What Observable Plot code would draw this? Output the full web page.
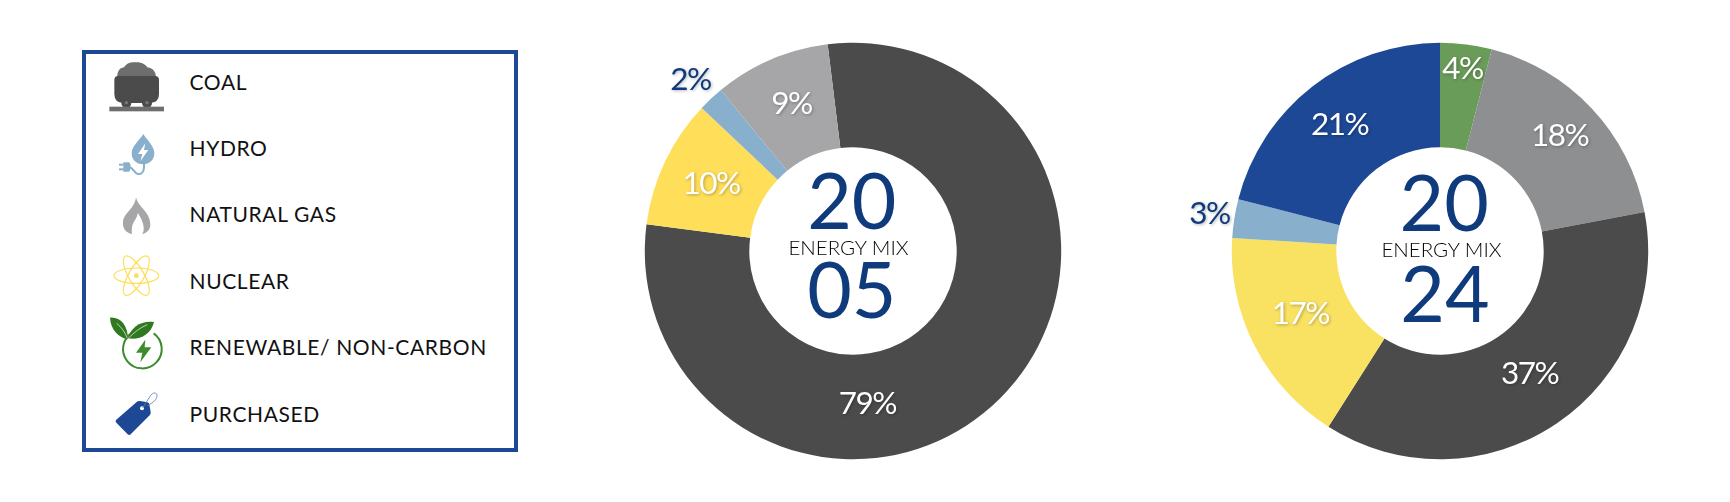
<!DOCTYPE html>
<html>
<head>
<meta charset="utf-8">
<script src="https://cdn.jsdelivr.net/npm/d3@7"></script>
<script src="https://cdn.jsdelivr.net/npm/@observablehq/plot@0.6"></script>
<style>
html,body{margin:0;padding:0;background:#fff;width:1730px;height:502px;overflow:hidden;font-family:Lato,sans-serif;}
.donut{position:absolute;top:-0.3px;}
#legend{position:absolute;left:82px;top:50px;width:435.5px;height:402px;box-sizing:border-box;border:4.7px solid #1D4896;}
.row{position:absolute;left:103.5px;height:24px;line-height:24px;transform:translateY(-12px);font-size:21px;letter-spacing:.62px;color:#111;white-space:nowrap;}
#icons{position:absolute;left:60px;top:30px;}
</style>
</head>
<body>
<div id="legend"></div>
<svg id="icons" width="480" height="440" viewBox="0 0 1440 1320">
  <!-- coal -->
  <path fill="#6E6E6E" d="M172,145 C170,126 178,114 192,112 C198,100 212,95 226,97 C242,95 256,102 262,112 C280,114 290,128 287,145Z"/>
  <path fill="#4B4B4B" d="M163,150 Q163,138 175,138 L285,138 Q297,138 297,150 L297,192 Q297,218 270,219 L190,219 Q163,218 163,192Z"/>
  <circle cx="199" cy="219" r="15" fill="#4B4B4B"/><circle cx="261" cy="219" r="15" fill="#4B4B4B"/>
  <circle cx="199" cy="218" r="5" fill="#777"/><circle cx="261" cy="218" r="5" fill="#777"/>
  <rect x="148" y="230" width="164" height="14" fill="#6E6E6E"/>
  <!-- hydro -->
  <path fill="#88AFCB" d="M250,312 C262,332 283,348 283,370 C283,390 268,403 249,403 C230,403 215,390 215,370 C215,348 238,332 250,312Z"/>
  <path fill="#fff" d="M256,340 L234,372 L247,372 L241,394 L265,360 L252,360Z"/>
  <path fill="none" stroke="#88AFCB" stroke-width="6" d="M252,400 C254,425 245,434 234,432 C222,430 222,414 208,412"/>
  <path fill="#88AFCB" d="M190,397 L208,397 Q216,411 208,425 L190,425Z"/>
  <rect x="177" y="401" width="14" height="6" fill="#88AFCB"/><rect x="177" y="415" width="14" height="6" fill="#88AFCB"/>
  <!-- gas -->
  <path fill="#A6A6A8" d="M228,502 C234,532 271,545 271,585 C271,598 262,608 247,612 C258,594 246,568 233,548 C232,572 212,572 216,612 C198,608 188,596 189,578 C190,548 224,538 228,502Z"/>
  <!-- nuclear -->
  <g fill="none" stroke="#FFDE59" stroke-width="3.6">
    <ellipse cx="229" cy="737" rx="67" ry="23"/>
    <ellipse cx="229" cy="737" rx="67" ry="23" transform="rotate(60 229 737)"/>
    <ellipse cx="229" cy="737" rx="67" ry="23" transform="rotate(120 229 737)"/>
  </g>
  <circle cx="229" cy="737" r="7" fill="#FFDE59"/>
  <!-- renewable -->
  <path fill="none" stroke="#3E8B2E" stroke-width="6" d="M218,907 A58,58 0 1 0 281,910"/>
  <path fill="#3E8B2E" d="M256,929 L228,968 L247,968 L241,997 L274,952 L254,952Z"/>
  <path fill="#2F7A1F" d="M150,863 C180,860 204,885 204,928 C176,922 152,900 150,863Z"/>
  <path fill="#2F7A1F" d="M282,876 C246,870 212,890 204,925 C240,930 272,915 282,876Z"/>
  <path fill="none" stroke="#fff" stroke-width="2" d="M170,880 C185,892 196,908 202,925 M262,884 C240,893 222,908 208,922"/>
  <!-- purchased -->
  <path fill="#1D4896" d="M168,1170 L230,1116 Q234,1112 240,1113 L262,1117 Q267,1118 268,1123 L272,1146 Q273,1152 269,1156 L212,1213 Q208,1217 203,1213 L169,1178 Q165,1174 168,1170Z"/>
  <circle cx="246" cy="1135" r="6" fill="#fff"/>
  <path fill="none" stroke="#5F7FBF" stroke-width="2.5" d="M248,1134 L272,1096 Q282,1084 290,1092 Q295,1102 280,1116 L262,1128"/>
</svg>
<script>
// Legend
const legendLabels = ["COAL", "HYDRO", "NATURAL GAS", "NUCLEAR", "RENEWABLE/ NON-CARBON", "PURCHASED"];

// 2005 mix, clockwise
const sources2005 = ["Coal", "Nuclear", "Hydro", "Natural gas"];
const shares2005 = [79, 10, 2, 9];
const colors2005 = ["#4B4B4B", "#FFDE59", "#88AFCB", "#A6A6A8"];
const labelAt2005 = [50.4, 84.0, 89.9, 95.7];
const labelRadius2005 = [153.3, 156.5, 236, 159.5];
const labelColors2005 = ["#fff", "#fff", "#0F3B7D", "#fff"];

// 2024 mix, clockwise from the top
const sources2024 = ["Renewable", "Natural gas", "Coal", "Nuclear", "Hydro", "Purchased"];
const shares2024 = [4, 18, 37, 17, 3, 21];
const colors2024 = ["#6A9C59", "#8E8F91", "#4B4B4B", "#F9E162", "#88AFCB", "#1D4896"];
const labelAt2024 = [2.0, 12.8, 39.9, 68.3, 77.6, 89.4];
const labelRadius2024 = [183.8, 166.7, 152.1, 152.5, 233, 161.5];
const labelColors2024 = ["#fff", "#fff", "#fff", "#fff", "#0F3B7D", "#fff"];

const centerTitle = "ENERGY MIX";
const innerRadius = 103.7, outerRadius = 208.2;
const fontFamily = "Lato, sans-serif";

// Rows of the legend
const legend = document.getElementById("legend");
legendLabels.forEach((label, i) => {
  const el = document.createElement("div");
  el.className = "row";
  el.textContent = label;
  el.style.top = (27.6 + 66.4 * i) + "px";
  legend.appendChild(el);
});

// Turns the (angle, radius) output of the x and y scales into pixels
function polarText(index, scales, values, dims, ctx, next) {
  const cx = dims.width / 2 - 1, cy = dims.height / 2;
  const x = values.x.map((a, i) => cx + values.y[i] * Math.sin(a));
  const y = values.y.map((r, i) => cy - r * Math.cos(values.x[i]));
  const g = next(index, scales, {...values, x, y}, dims, ctx);
  g.style.letterSpacing = "-1.5px";
  return g;
}
function polarArcs(index, scales, values, dims) {
  const g = d3.create("svg:g").attr("transform", `translate(${dims.width / 2},${dims.height / 2})`);
  const arc = d3.arc();
  for (const i of index) {
    g.append("path")
      .attr("fill", values.fill[i])
      .attr("d", arc({startAngle: values.x1[i], endAngle: values.x2[i], innerRadius: values.y1[i], outerRadius: values.y2[i]}));
  }
  return g.node();
}

function donut({sources, shares, colors, labelAt, labelRadius, labelColors, startDeg, top, bottom, left, shift}) {
  const ends = Array.from(d3.cumsum(shares));
  const rows = sources.map((source, i) => ({source, start: ends[i] - shares[i], end: ends[i]}));
  const labels = shares.map((share, i) => ({text: share + "%", at: labelAt[i], radius: labelRadius[i], color: labelColors[i]}));
  const start = startDeg * Math.PI / 180;
  const plot = Plot.plot({
    width: 560, height: 502, margin: 0,
    style: {background: "transparent", fontFamily},
    x: {domain: [0, 100], range: [start, start + 2 * Math.PI], axis: null},
    y: {domain: [0, 251], range: [0, 251], axis: null},
    color: {domain: sources, range: colors},
    marks: [
      Plot.rect(rows, {x1: "start", x2: "end", y1: () => innerRadius, y2: () => outerRadius, fill: "source", render: polarArcs}),
      Plot.text(labels, {x: "at", y: "radius", text: "text", fill: "color", fontSize: 31.5, fontWeight: 400, imageFilter: "drop-shadow(1px 1px 1.5px rgba(0,0,0,.28))", render: polarText}),
      Plot.text([top], {frameAnchor: "middle", dx: shift[0][0], dy: shift[0][1], text: d => d, fill: "#0F3B7D", fontSize: 77, fontWeight: 400}),
      Plot.text([centerTitle], {frameAnchor: "middle", dx: shift[1][0], dy: shift[1][1], text: d => d, fill: "#000", fontSize: 20.5, fontWeight: 300}),
      Plot.text([bottom], {frameAnchor: "middle", dx: shift[2][0], dy: shift[2][1], text: d => d, fill: "#0F3B7D", fontSize: 77, fontWeight: 400})
    ]
  });
  const holder = document.createElement("div");
  holder.className = "donut";
  holder.style.left = left + "px";
  holder.appendChild(plot);
  document.body.appendChild(holder);
}

donut({sources: sources2005, shares: shares2005, colors: colors2005, labelAt: labelAt2005, labelRadius: labelRadius2005, labelColors: labelColors2005,
  startDeg: -7, top: "20", bottom: "05", left: 573, shift: [[-1.7, -47.5], [-5, -2.7], [-1.7, 42.3]]});
donut({sources: sources2024, shares: shares2024, colors: colors2024, labelAt: labelAt2024, labelRadius: labelRadius2024, labelColors: labelColors2024,
  startDeg: 0, top: "20", bottom: "24", left: 1160, shift: [[3.7, -45.3], [1, -1], [4.4, 45.7]]});
</script>
</body>
</html>
